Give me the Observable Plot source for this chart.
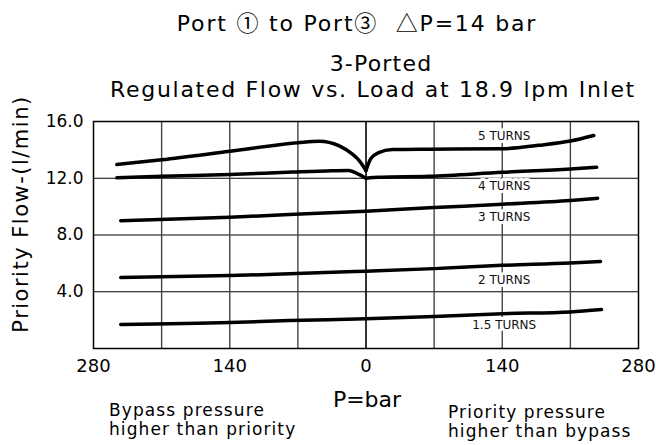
<!DOCTYPE html>
<html>
<head>
<meta charset="utf-8">
<script src="https://cdn.jsdelivr.net/npm/d3@7"></script>
<script src="https://cdn.jsdelivr.net/npm/@observablehq/plot@0.6"></script>
<style>
  html, body { margin: 0; padding: 0; background: #fff; }
  #wrap { position: relative; width: 656px; height: 445px; font-family: "DejaVu Sans", sans-serif; color: #000; overflow: hidden; }
  .t { position: absolute; white-space: nowrap; line-height: 1; }
  .c { transform: translate(-50%, -50%); }
  .l { transform: translate(0, -50%); }
  .cj { font-family: "Noto Sans CJK JP", "DejaVu Sans", sans-serif; }
  #chart { position: absolute; left: 0; top: 0; }
</style>
</head>
<body>
<div id="wrap">
  <div id="chart"></div>
  <div class="t c" style="left:357px; top:22px; font-size:22px; letter-spacing:1.8px;">Port <span class="cj">①</span> to Port<span class="cj">③</span> &nbsp;<span class="cj">△</span>P=14 bar</div>
  <div class="t c" style="left:381px; top:64px; font-size:22px; letter-spacing:1.2px;">3-Ported</div>
  <div class="t c" style="left:373px; top:90px; font-size:22px; letter-spacing:1.7px;">Regulated Flow vs. Load at 18.9 lpm Inlet</div>
  <div class="t c" style="left:21px; top:214px; font-size:21px; letter-spacing:1.5px; transform: translate(-50%,-50%) rotate(-90deg);">Priority Flow-(l/min)</div>
  <div class="t c" style="left:367px; top:400px; font-size:22px;">P=bar</div>
  <div class="t l" style="left:109px; top:420px; font-size:17px; line-height:19px; letter-spacing:1.1px;">Bypass pressure<br>higher than priority</div>
  <div class="t l" style="left:448px; top:422px; font-size:17px; line-height:19px; letter-spacing:1.1px;">Priority pressure<br>higher than bypass</div>
</div>
<script>
// Pressure (bar; negative = bypass side) and priority flow (l/min)
const t5L_x = [-256, -210, -140, -70, -48, -28, -15, -7, 0];
const t5L_y = [12.97, 13.3, 13.9, 14.5, 14.61, 14.3, 13.75, 13.25, 12.55];
const t5R_x = [0, 5, 13, 27, 65, 140, 177, 210, 234];
const t5R_y = [12.55, 13.39, 13.8, 14.02, 14.05, 14.08, 14.32, 14.62, 15.01];
const t4L_x = [-256, -210, -140, -75, -35, -18, -9, 0];
const t4L_y = [12.03, 12.14, 12.26, 12.44, 12.53, 12.55, 12.33, 12.0];
const t4R_x = [0, 13, 65, 140, 210, 237];
const t4R_y = [12.0, 12.07, 12.14, 12.42, 12.65, 12.78];
const t3_x = [-252, -140, -79, 0, 70, 140, 210, 238];
const t3_y = [9.0, 9.25, 9.44, 9.68, 9.93, 10.17, 10.43, 10.59];
const t2_x = [-252, -140, -79, 0, 70, 140, 210, 241];
const t2_y = [5.0, 5.14, 5.26, 5.45, 5.63, 5.86, 6.02, 6.13];
const t15_x = [-252, -140, -79, 0, 70, 140, 210, 242];
const t15_y = [1.69, 1.83, 1.97, 2.09, 2.25, 2.45, 2.58, 2.75];

const labelText = ["5 TURNS", "4 TURNS", "3 TURNS", "2 TURNS", "1.5 TURNS"];
const labelX = [142, 142, 142, 142, 142];
const labelY = [14.94, 11.42, 9.23, 4.79, 1.62];

const xTicks = [-280, -140, 0, 140, 280];
const xGrid = [-210, -140, -70, 70, 140, 210];
const yTicks = [4, 8, 12, 16];
const yGrid = [4, 8, 12];

const segs = [
  ["5L", t5L_x, t5L_y], ["5R", t5R_x, t5R_y],
  ["4L", t4L_x, t4L_y], ["4R", t4R_x, t4R_y],
  ["3", t3_x, t3_y], ["2", t2_x, t2_y], ["1.5", t15_x, t15_y]
];
const rows = segs.flatMap(([k, xs, ys]) => xs.map((x, i) => ({seg: k, x, y: ys[i]})));
const labels = labelText.map((t, i) => ({t, x: labelX[i], y: labelY[i]}));

const chart = Plot.plot({
  width: 656,
  height: 445,
  marginTop: 121,
  marginBottom: 97,
  marginLeft: 93,
  marginRight: 18,
  style: {fontFamily: "DejaVu Sans, sans-serif", background: "transparent", color: "#000"},
  x: {domain: [-280, 280]},
  y: {domain: [0, 16]},
  marks: [
    Plot.gridY(yGrid, {stroke: "#000", strokeOpacity: 1, strokeWidth: 1}),
    Plot.gridX(xGrid, {stroke: "#444", strokeOpacity: 1, strokeWidth: 1.4}),
    Plot.ruleX([0], {stroke: "#000", strokeWidth: 1.6}),
    Plot.frame({stroke: "#000", strokeWidth: 1.5}),
    Plot.line(rows, {x: "x", y: "y", z: "seg", curve: "monotone-x", stroke: "#000", strokeWidth: 3.5}),
    Plot.text(labels, {x: "x", y: "y", text: "t", fontSize: 12, fill: "#111", stroke: "#fff", strokeWidth: 6, paintOrder: "stroke"}),
    Plot.axisX({ticks: xTicks, tickFormat: d => Math.abs(d), tickSize: 0, tickPadding: 11, fontSize: 18, label: null}),
    Plot.axisY({ticks: yTicks, tickFormat: d => d.toFixed(1), tickSize: 0, tickPadding: 10, fontSize: 17, label: null})
  ]
});
document.getElementById("chart").appendChild(chart);
</script>
</body>
</html>
